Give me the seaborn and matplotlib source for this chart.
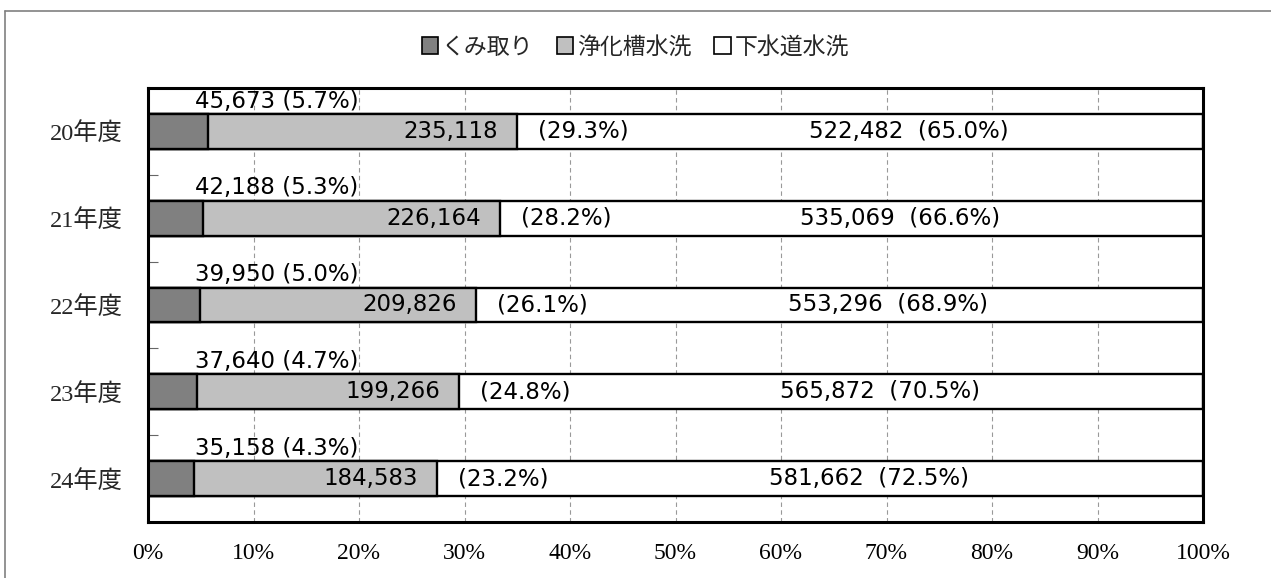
import matplotlib
matplotlib.use("Agg")
import matplotlib.pyplot as plt
import seaborn as sns
import numpy as np
import pandas as pd
from matplotlib.patches import Patch
from matplotlib.lines import Line2D

# ---- data ----
categories = ["20年度", "21年度", "22年度", "23年度", "24年度"]
series_names = ["くみ取り", "浄化槽水洗", "下水道水洗"]
kumitori = [45673, 42188, 39950, 37640, 35158]
jokaso = [235118, 226164, 209826, 199266, 184583]
gesuido = [522482, 535069, 553296, 565872, 581662]
pct_kumitori = ["5.7%", "5.3%", "5.0%", "4.7%", "4.3%"]
pct_jokaso = ["29.3%", "28.2%", "26.1%", "24.8%", "23.2%"]
pct_gesuido = ["65.0%", "66.6%", "68.9%", "70.5%", "72.5%"]
xtick_labels = ["0%", "10%", "20%", "30%", "40%", "50%", "60%", "70%", "80%", "90%", "100%"]

colors = ["#808080", "#c0c0c0", "#ffffff"]

sns.set_theme(style="white")
plt.rcParams["font.family"] = ["DejaVu Sans", "Noto Sans CJK JP"]

k = np.array(kumitori, float)
j = np.array(jokaso, float)
g = np.array(gesuido, float)
tot = k + j + g
p1 = k / tot * 100
p2 = j / tot * 100
cum1 = p1
cum2 = p1 + p2
full = np.full(len(categories), 100.0)

df = pd.DataFrame({"cat": categories, "full": full, "cum2": cum2, "cum1": cum1})

fig = plt.figure(figsize=(12.71, 5.78), dpi=100)
ax = fig.add_axes([148 / 1271, 1 - 522 / 578, (1203 - 148) / 1271, (522 - 88) / 578])

bw = 0.40
lw = 1.7
sns.barplot(data=df, x="full", y="cat", orient="h", color=colors[2], edgecolor="black",
            linewidth=lw, width=bw, ax=ax, saturation=1, zorder=3)
sns.barplot(data=df, x="cum2", y="cat", orient="h", color=colors[1], edgecolor="black",
            linewidth=lw, width=bw, ax=ax, saturation=1, zorder=4)
sns.barplot(data=df, x="cum1", y="cat", orient="h", color=colors[0], edgecolor="black",
            linewidth=lw, width=bw, ax=ax, saturation=1, zorder=5)

ax.set_xlim(0, 100)
ax.set_ylim(len(categories) - 0.5, -0.5)
ax.set_xlabel("")
ax.set_ylabel("")

# grid
ax.set_xticks(np.arange(0, 101, 10))
ax.set_xticklabels(xtick_labels, family=["Liberation Serif", "Noto Sans CJK JP"], fontsize=17)
ax.xaxis.grid(True, linestyle=(0, (4, 3)), color="#999999", linewidth=0.8)
ax.set_axisbelow(True)
ax.tick_params(axis="x", length=0, pad=15, colors="black")
ax.tick_params(axis="y", which="major", length=0, pad=18)
for t in ax.get_yticklabels():
    t.set_fontfamily(["Liberation Serif", "Noto Sans CJK JP"])
    t.set_fontsize(17.5)
ax.set_yticks(np.arange(0.5, len(categories) - 1, 1.0), minor=True)
ax.tick_params(axis="y", which="minor", direction="in", length=7, width=0.8, color="#666666", left=True)

for s in ax.spines.values():
    s.set_visible(True)
    s.set_color("black")
    s.set_linewidth(2.2)
    s.set_zorder(10)

# labels
fs = 16.5
for i in range(len(categories)):
    ax.text(4.5, i - 0.35, f"{kumitori[i]:,} ({pct_kumitori[i]})", ha="left", va="center",
            fontsize=fs, color="black", zorder=8)
    ax.text(cum2[i] - 1.8, i, f"{jokaso[i]:,}", ha="right", va="center",
            fontsize=fs, color="black", zorder=8)
    ax.text(cum2[i] + 2.0, i, f"({pct_jokaso[i]})", ha="left", va="center",
            fontsize=fs, color="black", zorder=8)
    ax.text((cum2[i] + 100) / 2 + 4.6, i, f"{gesuido[i]:,}  ({pct_gesuido[i]})", ha="center",
            va="center", fontsize=fs, color="black", zorder=8)

handles = [Patch(facecolor=c, edgecolor="black", linewidth=1.2) for c in colors]
fig.legend(handles, series_names, loc="center", bbox_to_anchor=(0.5, 1 - 47 / 578), ncol=3,
           frameon=False, handlelength=0.7, handleheight=0.7, handletextpad=0.2,
           columnspacing=1.0, prop={"family": ["Noto Sans CJK JP"], "size": 16.5})

# outer frame
fig.add_artist(Line2D([5 / 1271, 1.0], [1 - 11 / 578, 1 - 11 / 578], color="#808080", lw=1.2,
                      transform=fig.transFigure))
fig.add_artist(Line2D([5 / 1271, 5 / 1271], [0.0, 1 - 11 / 578], color="#808080", lw=1.2,
                      transform=fig.transFigure))

fig.savefig("out.png", dpi=100)
